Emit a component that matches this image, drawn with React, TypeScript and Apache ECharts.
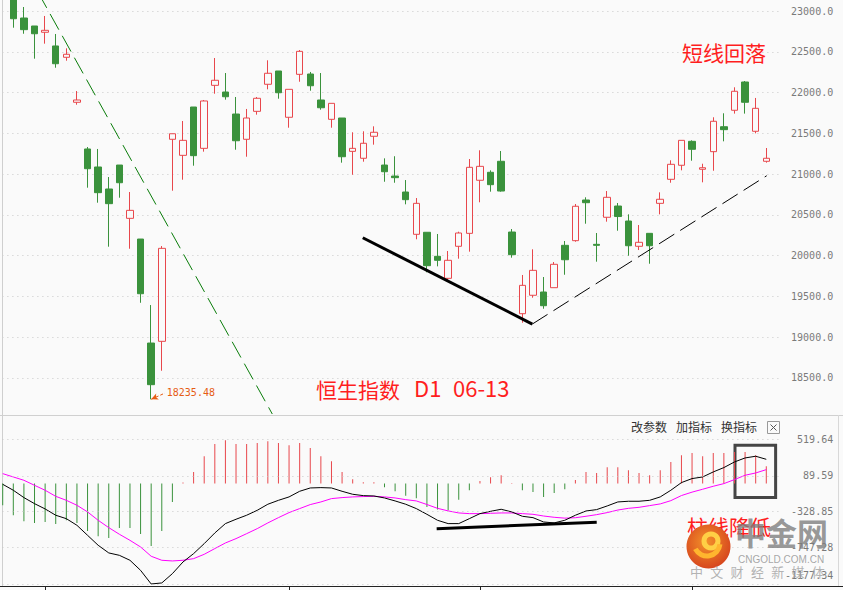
import React, { useEffect, useRef } from 'react';
import * as echarts from 'echarts';

// ---- data ----
const categories = [
  '02-23','02-24','02-25','02-28','03-01','03-02','03-03','03-04','03-07','03-08',
  '03-09','03-10','03-11','03-14','03-15','03-16','03-17','03-18','03-21','03-22',
  '03-23','03-24','03-25','03-28','03-29','03-30','03-31','04-01','04-04','04-06',
  '04-07','04-08','04-11','04-12','04-13','04-14','04-19','04-20','04-21','04-22',
  '04-25','04-26','04-27','04-28','04-29','05-03','05-04','05-05','05-06','05-10',
  '05-11','05-12','05-13','05-16','05-17','05-18','05-19','05-20','05-23','05-24',
  '05-25','05-26','05-27','05-30','05-31','06-01','06-02','06-06','06-07','06-08',
  '06-09','06-10','06-13',''
];
const opens = [
  23600,23380,22914,22816,22739,22571,22432,21880,21307,21086,
  20816,21110,20456,20202,18926,18947,21426,21229,21822,21315,
  22088,22006,21736,21426,21769,22101,22264,21696,22223,22227,
  21908,21671,21687,21278,21193,21463,21110,20975,20779,20260,
  20285,19990,19720,20113,20272,20923,21021,21156,20288,19286,
  19512,19552,19605,20125,20182,20681,20137,20469,20607,20423,
  20113,20272,20640,20935,21107,21401,21058,21274,21580,21782,
  22129,21524,21156
];
const closes = [
  23660,22905,22771,22721,22763,22353,22469,21908,21065,20771,
  20636,20893,20554,19531,18415,20088,21494,21413,21225,21896,
  22150,21948,21408,21687,21929,22236,21997,22039,22505,22083,
  21813,21867,21212,21315,21377,21512,21028,20955,20685,20640,
  19875,19941,19941,20276,21082,21094,20869,20791,20010,19634,
  19818,19384,19892,19948,20604,20648,20125,20714,20478,20120,
  20162,20120,20690,21119,21413,21303,21077,21647,21544,22015,
  21880,21806,21193
];
const lows = [
  23450,22795,22721,22415,22599,22304,22390,21850,20832,20648,
  20108,20709,20083,19420,18235.48,18586,20795,20930,21102,21274,
  21985,21912,21298,21212,21728,22039,21924,21568,22132,22022,
  21789,21568,21139,20991,21151,21360,20905,20893,20628,20199,
  19794,19867,19678,19961,20047,20653,20783,20783,19973,19175,
  19482,19347,19605,19764,20169,20390,19924,20415,20304,19997,
  20067,19899,20505,20893,21045,21163,20898,21040,21401,21741,
  21741,21499,21139
];
const highs = [
  23750,23420,23049,22816,22939,22718,22542,22018,21331,21307,
  20963,21110,20779,20202,19392,20116,21494,21650,21822,21908,
  22423,22239,21945,21798,21945,22395,22264,22039,22521,22252,
  22239,21867,21687,21512,21524,21585,21192,21218,20926,20705,
  20285,20264,20055,20292,21184,21291,21045,21282,20325,19761,
  20076,19736,19920,20178,20632,20714,20276,20791,20644,20505,
  20374,20272,20775,21168,21413,21413,21126,21696,21745,22064,
  22141,21933,21319
];
const dif = [
  -8,-78,-164,-235,-297,-371,-411,-489,-606,-723,
  -813,-841,-899,-1017,-1177,-1165,-1056,-919,-821,-704,
  -579,-469,-418,-371,-313,-242,-196,-156,-90,-51,
  -47,-51,-90,-125,-141,-145,-168,-203,-242,-293,
  -360,-430,-469,-469,-411,-352,-325,-301,-332,-383,
  -399,-450,-461,-430,-371,-321,-305,-262,-215,-207,
  -207,-196,-156,-78,12,59,78,137,188,254,
  301,321,285
];
const dea = [
  117,78,39,-20,-78,-149,-196,-254,-332,-430,
  -516,-594,-665,-743,-852,-899,-907,-899,-880,-829,
  -762,-696,-645,-587,-528,-461,-399,-340,-293,-246,
  -215,-176,-164,-156,-152,-149,-156,-168,-188,-203,
  -245,-290,-320,-344,-352,-352,-348,-344,-344,-352,
  -360,-380,-395,-405,-400,-383,-364,-340,-310,-290,
  -278,-258,-238,-200,-140,-100,-66,-31,0,47,
  98,125,164
];
const macdHist = [
  -254,-371,-442,-461,-450,-473,-430,-461,-555,-618,
  -637,-520,-520,-590,-731,-555,-215,12,137,321,
  465,508,465,465,477,497,477,450,477,418,
  321,262,137,51,16,16,-43,-90,-141,-172,
  -274,-305,-313,-188,-78,31,74,98,8,-78,
  -98,-156,-109,-66,43,137,125,191,191,156,
  125,98,156,254,332,360,321,360,360,371,
  371,332,203
];
const macdTicks = [519.64, 89.59, -328.85, -747.28, -1177.34];
const monthStarts = [4, 27, 45, 65];
const lowPoint = [14, 18235.48];
const lowLabelEnd = [15.3, 18312];
// hand-drawn annotation lines, in (candle index, value) coordinates
const downTrend = [[2.18, 23500], [25.42, 18055]];
const supportLine = [[33.95, 20218], [49.94, 19159]];
const riseLine = [[49.94, 19159], [72.04, 20979]];
const macdLine = [[40.92, -528], [56.01, -454]];
const macdBox = [[69.05, 449], [72.88, -164]];

const BG = '#fafafa';
const RED = '#e8474c';
const GREEN = '#3a923c';
const GRID_LINE = { color: '#c8c8c8', type: [1, 4] as any, width: 1 };
const MONO = '"DejaVu Sans Mono", monospace';
const CJK = '"Noto Sans CJK SC", sans-serif';

export default function App() {
  const ref = useRef<HTMLDivElement>(null);
  useEffect(() => {
    if (!ref.current) return;
    const chart = echarts.init(ref.current, undefined, { renderer: 'svg' });
    const candleData = opens.map((o, i) => [o, closes[i], lows[i], highs[i]]);
    const n = categories.length;
    const bottomTick = macdTicks[macdTicks.length - 1];

    const toolbar = [
      { t: '改参数', x: 631 },
      { t: '加指标', x: 676 },
      { t: '换指标', x: 721 },
    ];
    const slogan = ['中', '文', '财', '经', '新', '媒', '体'];

    const option: any = {
      animation: false,
      backgroundColor: BG,
      grid: [
        { left: -2.6, right: 60.8, top: 0, bottom: 171.5, outerBoundsMode: 'none', containLabel: false },
        { left: -2.6, right: 60.8, top: 415, bottom: 4, outerBoundsMode: 'none', containLabel: false },
      ],
      xAxis: [
        { type: 'category', gridIndex: 0, data: categories, boundaryGap: true,
          axisLine: { show: false }, axisTick: { show: false }, axisLabel: { show: false }, splitLine: { show: false } },
        { type: 'category', gridIndex: 1, data: categories, boundaryGap: true,
          axisLine: { show: true, onZero: false, lineStyle: { color: '#222', width: 1 } },
          axisTick: { show: true, alignWithLabel: true, length: 4, lineStyle: { color: '#222' },
            interval: (idx: number) => monthStarts.includes(idx) },
          axisLabel: { show: false }, splitLine: { show: false } },
        { type: 'value', gridIndex: 0, min: -0.5, max: n - 0.5, show: false },
        { type: 'value', gridIndex: 1, min: -0.5, max: n - 0.5, show: false },
      ],
      yAxis: [
        { type: 'value', gridIndex: 0, position: 'right', min: 18000, max: 23135, interval: 500,
          axisLine: { show: true, lineStyle: { color: '#cfcfcf' } },
          axisTick: { show: false },
          axisLabel: { showMinLabel: false, showMaxLabel: false, color: '#7a7a7a', fontFamily: MONO, fontSize: 10,
            align: 'right', margin: 51, formatter: (v: number) => v.toFixed(1) },
          splitLine: { show: true, showMinLine: false, showMaxLine: false, lineStyle: GRID_LINE } },
        { type: 'value', gridIndex: 1, position: 'right', min: -1200.8, max: 804.7,
          axisLine: { show: true, lineStyle: { color: '#cfcfcf' } },
          axisTick: { show: false },
          axisLabel: { customValues: macdTicks, color: '#7a7a7a', fontFamily: MONO, fontSize: 10,
            align: 'right', margin: 51,
            formatter: (v: number) => (Math.abs(v - bottomTick) < 0.01 ? `{low|${v.toFixed(2)}}` : v.toFixed(2)),
            rich: { low: { color: '#7a7a7a', fontFamily: MONO, fontSize: 10, padding: [0, 0, 16, 0] } } },
          splitLine: { show: false } },
      ],
      series: [
        { type: 'candlestick', xAxisIndex: 0, yAxisIndex: 0, data: candleData, barWidth: 7, clip: true,
          itemStyle: { color: BG, color0: GREEN, borderColor: RED, borderColor0: GREEN, borderWidth: 1 } },
        { type: 'line', xAxisIndex: 2, yAxisIndex: 0, data: downTrend, symbol: 'none', silent: true, clip: true,
          lineStyle: { color: '#0a7d0a', width: 1, type: [18, 7] } },
        { type: 'line', xAxisIndex: 2, yAxisIndex: 0, data: supportLine, symbol: 'none', silent: true,
          lineStyle: { color: '#000', width: 3 } },
        { type: 'line', xAxisIndex: 2, yAxisIndex: 0, data: riseLine, symbol: 'none', silent: true,
          lineStyle: { color: '#000', width: 1, type: [18, 7] },
          markLine: { silent: true, symbol: ['arrow', 'none'], symbolSize: [5, 7],
            lineStyle: { color: '#e65c14', width: 1, type: [3, 2] },
            label: { show: true, position: 'end', distance: 2, formatter: lowPoint[1].toFixed(2),
              color: '#e65c14', fontFamily: MONO, fontSize: 10 },
            data: [[{ coord: lowPoint }, { coord: lowLabelEnd }]] } },
        { type: 'bar', xAxisIndex: 1, yAxisIndex: 1, data: macdHist, barWidth: 1, silent: true,
          itemStyle: { color: (p: any) => (p.value >= 0 ? RED : GREEN) },
          markLine: { silent: true, symbol: 'none', label: { show: false }, lineStyle: GRID_LINE,
            data: macdTicks.map((v) => ({ yAxis: v })) } },
        { type: 'line', xAxisIndex: 1, yAxisIndex: 1, data: dea, symbol: 'none', silent: true,
          lineStyle: { color: '#ff00ff', width: 1 } },
        { type: 'line', xAxisIndex: 1, yAxisIndex: 1, data: dif, symbol: 'none', silent: true,
          lineStyle: { color: '#000', width: 1 } },
        { type: 'line', xAxisIndex: 3, yAxisIndex: 1, data: macdLine, symbol: 'none', silent: true,
          lineStyle: { color: '#000', width: 3 },
          markArea: { silent: true, itemStyle: { color: 'rgba(0,0,0,0)', borderColor: '#454545', borderWidth: 3 },
            data: [[{ coord: macdBox[0] }, { coord: macdBox[1] }]] } },
      ],
      graphic: [
        { type: 'line', z: 50, shape: { x1: 0, y1: 415.5, x2: 843, y2: 415.5 }, style: { stroke: '#d0d0d0', lineWidth: 1 } },
        { type: 'line', z: 50, shape: { x1: 838.5, y1: 415, x2: 838.5, y2: 586 }, style: { stroke: '#d8d8d8', lineWidth: 1 } },
        { type: 'line', z: 50, shape: { x1: 782, y1: 586.5, x2: 843, y2: 586.5 }, style: { stroke: '#222', lineWidth: 1 } },
        { type: 'text', z: 60, x: 682, y: 41, style: { text: '短线回落', fill: '#ff1e1e', font: `21px ${CJK}`, verticalAlign: 'top' } },
        { type: 'text', z: 60, x: 316, y: 378, style: { text: '恒生指数', fill: '#ff1e1e', font: `21px ${CJK}`, verticalAlign: 'top' } },
        { type: 'text', z: 60, x: 414, y: 376, style: { text: 'D1', fill: '#ff1e1e', font: `22px ${CJK}`, verticalAlign: 'top' } },
        { type: 'text', z: 60, x: 453, y: 376, style: { text: '06-13', fill: '#ff1e1e', font: `22px ${CJK}`, verticalAlign: 'top' } },
        ...toolbar.map((b) => ({ type: 'text', z: 60, x: b.x, y: 420, style: { text: b.t, fill: '#333', font: `12px ${CJK}`, verticalAlign: 'top' } })),
        { type: 'rect', z: 60, shape: { x: 767.5, y: 421.5, width: 12, height: 12 }, style: { fill: BG, stroke: '#999', lineWidth: 1 } },
        { type: 'line', z: 61, shape: { x1: 770.5, y1: 424.5, x2: 776.5, y2: 430.5 }, style: { stroke: '#555', lineWidth: 1 } },
        { type: 'line', z: 61, shape: { x1: 776.5, y1: 424.5, x2: 770.5, y2: 430.5 }, style: { stroke: '#555', lineWidth: 1 } },
        { type: 'text', z: 60, x: 687, y: 515, style: { text: '柱线降低', fill: '#ff1e1e', font: `21px ${CJK}`, verticalAlign: 'top' } },
        // watermark
        { type: 'circle', z: 70, shape: { cx: 708.5, cy: 546.5, r: 22 },
          style: { fill: new echarts.graphic.RadialGradient(0.45, 0.4, 0.7, [
            { offset: 0, color: '#f3922a' }, { offset: 1, color: '#d23a1c' }]) } },
        { type: 'arc', z: 71, shape: { cx: 711, cy: 541, r: 7, startAngle: 0, endAngle: Math.PI * 2 },
          style: { stroke: '#ffcf45', lineWidth: 5, fill: 'none' } },
        { type: 'arc', z: 71, shape: { cx: 707, cy: 543, r: 13, startAngle: 0.1, endAngle: Math.PI * 0.85 },
          style: { stroke: '#ffb52e', lineWidth: 5, fill: 'none' } },
        { type: 'text', z: 70, x: 735, y: 516, style: { text: '中金网', fill: 'rgba(125,125,125,0.8)', font: `bold 31px ${CJK}`, verticalAlign: 'top' } },
        { type: 'text', z: 70, x: 738, y: 554, style: { text: 'CNGOLD.COM.CN', fill: 'rgba(150,150,150,0.85)', font: '10px "Liberation Sans", sans-serif', verticalAlign: 'top' } },
        ...slogan.map((c, k) => ({ type: 'text', z: 70, x: 690 + k * 20.3, y: 565, style: { text: c, fill: 'rgba(160,160,160,0.8)', font: `13px ${CJK}`, verticalAlign: 'top' } })),
      ],
    };
    chart.setOption(option);
    return () => chart.dispose();
  }, []);
  return <div ref={ref} style={{ position: 'fixed', left: 0, top: 0, width: 843, height: 590 }} />;
}
